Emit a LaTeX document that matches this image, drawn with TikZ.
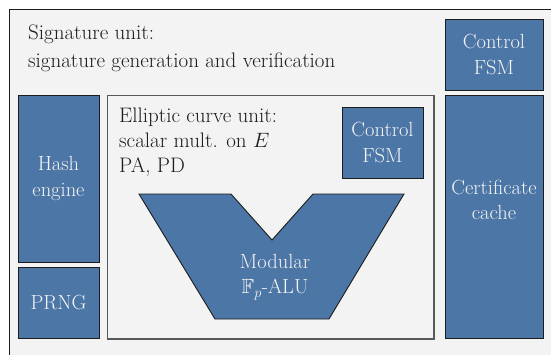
\documentclass[tikz,border=0pt]{standalone}
\usepackage{amssymb}
\definecolor{unitblue}{HTML}{4C76A6}
\definecolor{panelgray}{HTML}{F2F3F2}
\definecolor{edgedark}{HTML}{1C1C1C}
\definecolor{textlight}{HTML}{F4F4F4}
\begin{document}
\begin{tikzpicture}[x=1pt,y=-1pt,
  block/.style={draw=edgedark,line width=0.9pt,fill=unitblue},
  blocktext/.style={text=textlight,font=\fontsize{20.5}{25.5}\selectfont,align=center,inner sep=0pt},
  plaintext/.style={text=edgedark,font=\fontsize{21}{26}\selectfont,align=left,inner sep=0pt,anchor=base west}]
\useasboundingbox (0,0) rectangle (551,354);
\fill[white] (0,0) rectangle (551,354);
% signature unit panel
\draw[draw=edgedark,line width=0.9pt,fill=panelgray] (9,9) rectangle (560,370);
\node[plaintext] (sigA) at (28,39) {Signature unit:};
\node[plaintext] (sigB) at (28,67) {signature generation and verification};
% elliptic curve unit panel
\draw[draw=black!65,line width=0.8pt,fill=panelgray] (107,95) rectangle (434,339);
\draw[draw=black!65,line width=1.2pt] (107,339) -- (434,339) -- (434,95);
\node[plaintext] (ecA) at (119,122) {Elliptic curve unit:};
\node[plaintext] (ecB) at (119,147) {scalar mult. on $E$};
\node[plaintext] (ecC) at (119,172) {PA, PD};
% blue blocks
\draw[block] (445,19) rectangle (543,90);
\node[blocktext] (fsmtop) at (494,54.5) {Control\\FSM};
\draw[block] (445,95) rectangle (543,338);
\node[blocktext] (cache) at (494,200) {Certificate\\cache};
\draw[block] (18,95) rectangle (99,262);
\node[blocktext] (hash) at (58.5,178.5) {Hash\\engine};
\draw[block] (18,267) rectangle (99,338);
\node[blocktext] (prng) at (58.5,302.5) {PRNG};
\draw[block] (342,107) rectangle (423,178);
\node[blocktext] (fsmec) at (382.5,142.5) {Control\\FSM};
% modular ALU (V-shaped trapezoid)
\draw[block,line join=miter] (139,194) -- (231,194) -- (272,240) -- (313,194) -- (404,194) -- (329,319) -- (215,319) -- cycle;
\node[blocktext] (alu) at (275,277) {Modular\\$\mathbb{F}_p$-ALU};
\end{tikzpicture}
\end{document}
